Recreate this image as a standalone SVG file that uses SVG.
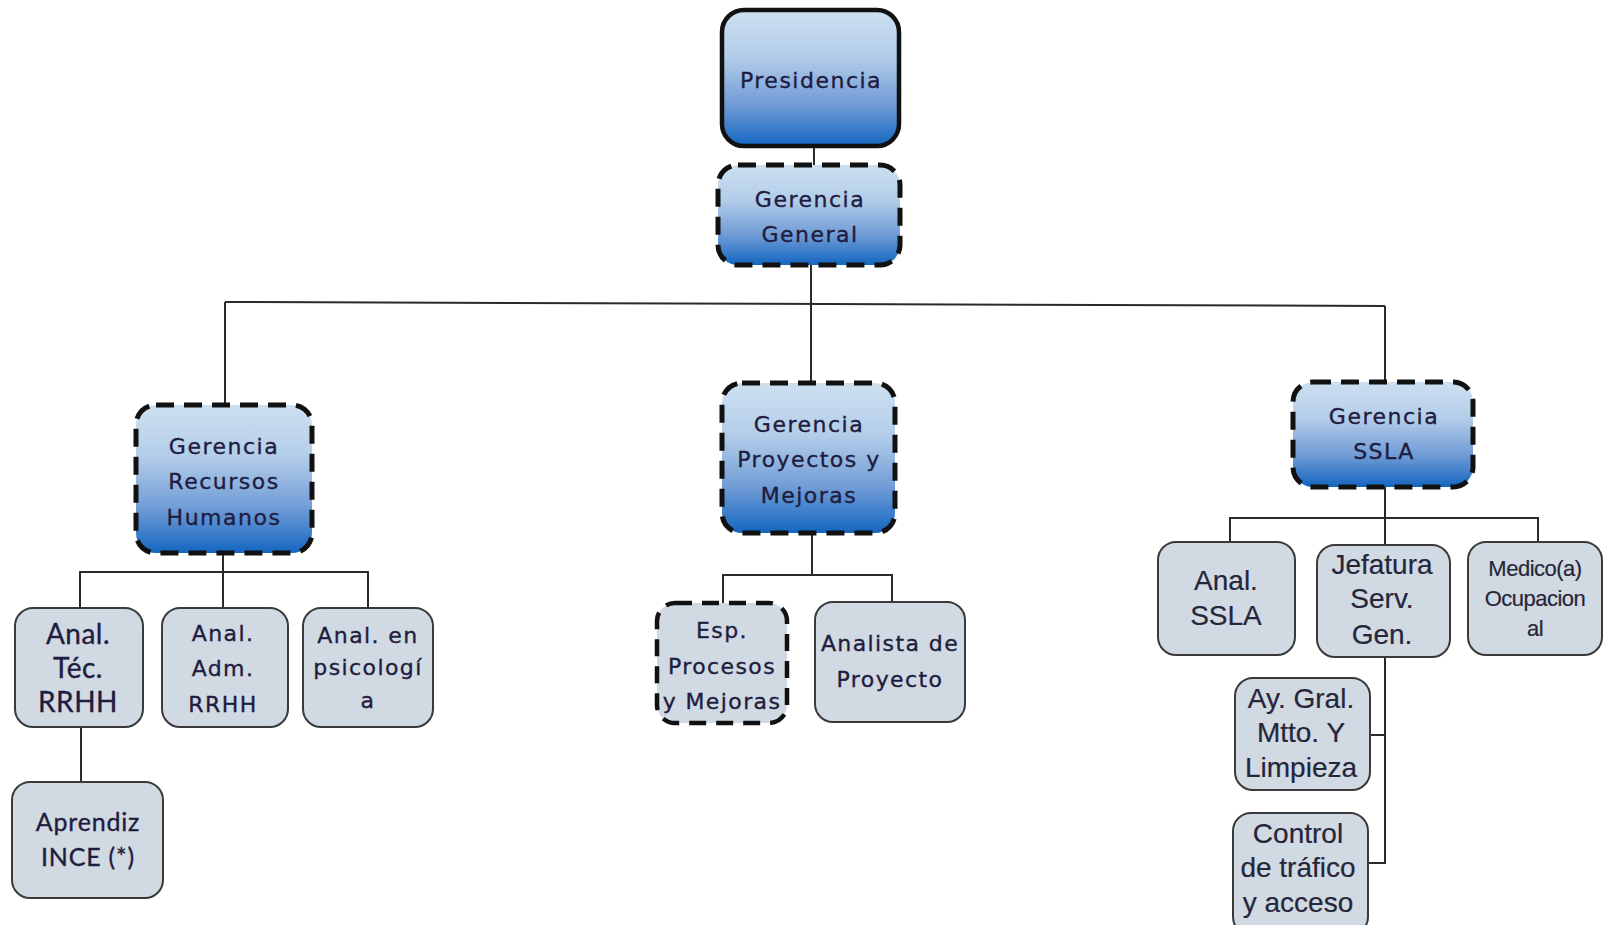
<svg xmlns="http://www.w3.org/2000/svg" width="1604" height="925" viewBox="0 0 1604 925">
  <defs>
    <linearGradient id="blueGrad" x1="0" y1="0" x2="0" y2="1">
      <stop offset="0" stop-color="#cde0f1"/>
      <stop offset="0.35" stop-color="#b3cde9"/>
      <stop offset="0.7" stop-color="#6f9bd6"/>
      <stop offset="1" stop-color="#1466c0"/>
    </linearGradient>
    <style>
      .top { fill: url(#blueGrad); stroke: #111; stroke-width: 4.5; }
      .mgr { fill: url(#blueGrad); stroke: #111; stroke-width: 5; stroke-dasharray: 18 10; }
      .staff { fill: #d1d9e2; stroke: #3a3a3a; stroke-width: 2; }
      .staffDash { fill: #d1d9e2; stroke: #111; stroke-width: 4.5; stroke-dasharray: 17 10; }
      .link { fill: none; stroke: #2a2a2a; stroke-width: 2; }
      text { text-anchor: middle; fill: #1f1c40; stroke: #1f1c40; stroke-width: 0.35px; }
      .tah { font-family: "DejaVu Sans", Verdana, sans-serif; font-size: 22px; letter-spacing: 1.5px; }
      .tahL { font-family: "DejaVu Sans", Verdana, sans-serif; font-size: 22px; letter-spacing: 1.4px; }
      .cal { font-family: Lato, "Open Sans", sans-serif; font-size: 28px; letter-spacing: 0.5px; }
      .calS { font-family: Lato, "Open Sans", sans-serif; font-size: 25px; letter-spacing: 0.8px; }
      .ari { font-family: "Liberation Sans", Arial, sans-serif; font-size: 28px; fill: #26263a; stroke: #26263a; stroke-width: 0.2px; }
      .ariS { font-family: "Liberation Sans", Arial, sans-serif; font-size: 22px; fill: #26263a; stroke: #26263a; stroke-width: 0.2px; letter-spacing: -0.5px; }
    </style>
  </defs>

  <!-- connectors -->
  <g id="connectors" class="link">
    <path d="M814 146 V165"/>
    <path d="M811 265 V383"/>
    <path d="M225 302 L1385 306"/>
    <path d="M225 302 V405"/>
    <path d="M1385 306 V382"/>
    <!-- Recursos Humanos branch -->
    <path d="M223 553 V608"/>
    <path d="M80 608 V572 H368 V608"/>
    <path d="M81 727 V782"/>
    <!-- Proyectos y Mejoras branch -->
    <path d="M812 533 V575"/>
    <path d="M723 603 V575 H892 V602"/>
    <!-- SSLA branch -->
    <path d="M1385 487 V545"/>
    <path d="M1230 542 V518 H1538 V542"/>
    <path d="M1385 657 V863 H1368"/>
    <path d="M1370 735 H1385"/>
  </g>

  <g id="presidencia">
    <rect class="top" x="722" y="10" width="177" height="136" rx="22"/>
    <text class="tah" x="811" y="88">Presidencia</text>
  </g>

  <g id="gerencia-general">
    <rect class="mgr" x="718" y="165" width="182" height="100" rx="20"/>
    <text class="tah" x="810" y="207">Gerencia</text>
    <text class="tah" x="810" y="242">General</text>
  </g>

  <g id="gerencia-rrhh">
    <rect class="mgr" x="136" y="405" width="176" height="148" rx="20"/>
    <text class="tah" x="224" y="454">Gerencia</text>
    <text class="tah" x="224" y="489">Recursos</text>
    <text class="tah" x="224" y="525">Humanos</text>
  </g>

  <g id="gerencia-proyectos">
    <rect class="mgr" x="722" y="383" width="173" height="150" rx="20"/>
    <text class="tah" x="809" y="432">Gerencia</text>
    <text class="tah" x="809" y="467">Proyectos y</text>
    <text class="tah" x="809" y="503">Mejoras</text>
  </g>

  <g id="gerencia-ssla">
    <rect class="mgr" x="1293" y="382" width="180" height="105" rx="20"/>
    <text class="tah" x="1384" y="424">Gerencia</text>
    <text class="tah" x="1384" y="459">SSLA</text>
  </g>

  <g id="anal-tec-rrhh">
    <rect class="staff" x="15" y="608" width="128" height="119" rx="18"/>
    <text class="cal" x="78" y="644">Anal.</text>
    <text class="cal" x="78" y="678">Téc.</text>
    <text class="cal" x="78" y="712">RRHH</text>
  </g>

  <g id="anal-adm-rrhh">
    <rect class="staff" x="162" y="608" width="126" height="119" rx="18"/>
    <text class="tahL" x="223" y="641">Anal.</text>
    <text class="tahL" x="223" y="676">Adm.</text>
    <text class="tahL" x="223" y="712">RRHH</text>
  </g>

  <g id="anal-psicologia">
    <rect class="staff" x="303" y="608" width="130" height="119" rx="18"/>
    <text class="tahL" x="368" y="643">Anal. en</text>
    <text class="tahL" x="368" y="675">psicologí</text>
    <text class="tahL" x="368" y="708">a</text>
  </g>

  <g id="aprendiz-ince">
    <rect class="staff" x="12" y="782" width="151" height="116" rx="18"/>
    <text class="calS" x="88" y="831">Aprendiz</text>
    <text class="calS" x="88" y="866">INCE (*)</text>
  </g>

  <g id="esp-procesos">
    <rect class="staffDash" x="657" y="603" width="130" height="120" rx="18"/>
    <text class="tahL" x="722" y="638">Esp.</text>
    <text class="tahL" x="722" y="674">Procesos</text>
    <text class="tahL" x="722" y="709">y Mejoras</text>
  </g>

  <g id="analista-proyecto">
    <rect class="staff" x="815" y="602" width="150" height="120" rx="18"/>
    <text class="tahL" x="890" y="651">Analista de</text>
    <text class="tahL" x="890" y="687">Proyecto</text>
  </g>

  <g id="anal-ssla">
    <rect class="staff" x="1158" y="542" width="137" height="113" rx="18"/>
    <text class="ari" x="1226" y="590">Anal.</text>
    <text class="ari" x="1226" y="625">SSLA</text>
  </g>

  <g id="jefatura-serv-gen">
    <rect class="staff" x="1317" y="545" width="133" height="112" rx="18"/>
    <text class="ari" x="1382" y="574">Jefatura</text>
    <text class="ari" x="1382" y="608">Serv.</text>
    <text class="ari" x="1382" y="644">Gen.</text>
  </g>

  <g id="medico-ocupacional">
    <rect class="staff" x="1468" y="542" width="134" height="113" rx="18"/>
    <text class="ariS" x="1535" y="576">Medico(a)</text>
    <text class="ariS" x="1535" y="606">Ocupacion</text>
    <text class="ariS" x="1535" y="636">al</text>
  </g>

  <g id="ay-gral-mtto">
    <rect class="staff" x="1235" y="678" width="135" height="112" rx="18"/>
    <text class="ari" x="1301" y="708">Ay. Gral.</text>
    <text class="ari" x="1301" y="742">Mtto. Y</text>
    <text class="ari" x="1301" y="777">Limpieza</text>
  </g>

  <g id="control-trafico">
    <rect class="staff" x="1233" y="813" width="135" height="122" rx="18"/>
    <text class="ari" x="1298" y="843">Control</text>
    <text class="ari" x="1298" y="877">de tráfico</text>
    <text class="ari" x="1298" y="912">y acceso</text>
  </g>
</svg>
